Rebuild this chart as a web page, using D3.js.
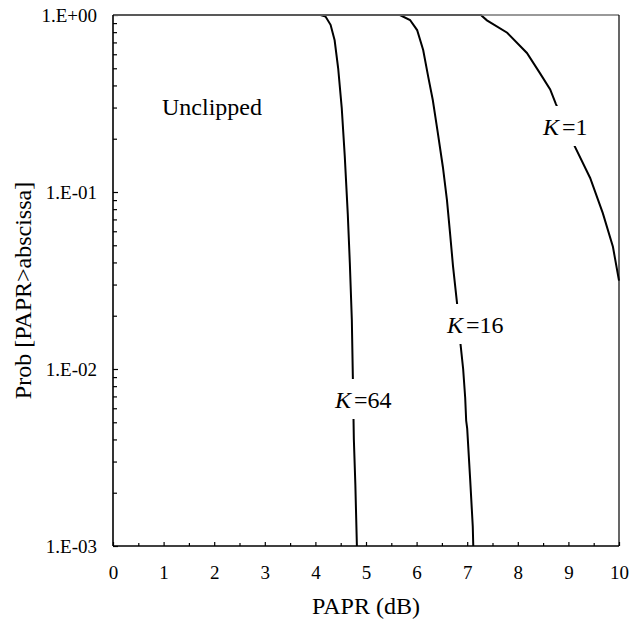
<!DOCTYPE html>
<html>
<head>
<meta charset="utf-8">
<script src="https://cdn.jsdelivr.net/npm/d3@7"></script>
<style>
  body { margin: 0; background: #fff; }
</style>
</head>
<body>
<div id="chart"></div>
<script>
// PAPR values (dB) and Prob[PAPR > abscissa]
const papr64 = [0, 4.1, 4.2, 4.3, 4.38, 4.45, 4.52, 4.58, 4.64, 4.68, 4.72, 4.74, 4.76, 4.79, 4.82];
const prob64 = [1, 1, 0.98, 0.88, 0.72, 0.5, 0.3, 0.16, 0.075, 0.04, 0.019, 0.009, 0.004, 0.0022, 0.001];

const papr16 = [0, 5.67, 5.87, 6.01, 6.13, 6.23, 6.32, 6.42, 6.52, 6.6, 6.66, 6.72, 6.8, 6.86, 6.92, 6.96, 6.98, 7.0, 7.06, 7.11, 7.12];
const prob16 = [1, 1, 0.937, 0.822, 0.634, 0.447, 0.331, 0.215, 0.138, 0.09, 0.059, 0.038, 0.0234, 0.0145, 0.01, 0.0069, 0.0051, 0.0046, 0.00234, 0.00129, 0.001];

const papr1 = [0, 7.07, 7.27, 7.39, 7.79, 8.18, 8.44, 8.64, 8.75, 9.09, 9.43, 9.68, 9.88, 10];
const prob1 = [1, 1, 1, 0.933, 0.794, 0.61, 0.468, 0.38, 0.316, 0.19, 0.12, 0.076, 0.049, 0.0316];

const xTicks = [0, 1, 2, 3, 4, 5, 6, 7, 8, 9, 10];
const yTicks = [1, 0.1, 0.01, 0.001];
const yTickLabels = ["1.E+00", "1.E-01", "1.E-02", "1.E-03"];
const curveNames = ["64", "16", "1"];

const serif = "'Liberation Serif', 'DejaVu Serif', serif";

function drawChart() {
    const width = 630, height = 626;
    const left = 113, right = 619, top = 15, bottom = 546;

    const svg = d3.select("#chart").append("svg").attr("width", width).attr("height", height)
        .attr("font-family", serif);
    const x = d3.scaleLinear().domain([0, 10]).range([left, right]);
    const y = d3.scaleLog().domain([0.001, 1]).range([bottom, top]);

    // minor ticks
    const minorY = [];
    [0.001, 0.01, 0.1].forEach(d => { for (let m = 2; m <= 9; m++) minorY.push(d * m); });
    const minorX = d3.range(0.5, 10, 1);

    svg.append("g").attr("transform", `translate(${left},0)`)
        .call(d3.axisLeft(y).tickValues(minorY).tickFormat("").tickSizeInner(-4).tickSizeOuter(0))
        .call(g => g.select(".domain").remove());
    svg.append("g").attr("transform", `translate(0,${bottom})`)
        .call(d3.axisBottom(x).tickValues(minorX).tickFormat("").tickSizeInner(-3).tickSizeOuter(0))
        .call(g => g.select(".domain").remove());

    // major ticks + labels
    svg.append("g").attr("transform", `translate(${left},0)`)
        .call(d3.axisLeft(y).tickValues(yTicks).tickFormat((d, i) => yTickLabels[i]).tickSizeInner(-5).tickSizeOuter(0).tickPadding(16))
        .attr("font-family", serif).attr("font-size", 19)
        .call(g => g.select(".domain").remove());
    svg.append("g").attr("transform", `translate(0,${bottom})`)
        .call(d3.axisBottom(x).tickValues(xTicks).tickFormat(d3.format("d")).tickSizeInner(-4).tickSizeOuter(0).tickPadding(20))
        .attr("font-family", serif).attr("font-size", 19)
        .call(g => g.select(".domain").remove());
    svg.selectAll(".tick line").attr("stroke", "#000").attr("stroke-width", 1.2);
    svg.selectAll(".tick text").attr("fill", "#000");

    // curves
    const line = d3.line().x(d => x(d[0])).y(d => y(d[1]));
    const series = [d3.zip(papr64, prob64), d3.zip(papr16, prob16), d3.zip(papr1, prob1)];
    svg.append("g").selectAll("path").data(series).join("path")
        .attr("d", line).attr("fill", "none").attr("stroke", "#000").attr("stroke-width", 2);

    // frame
    svg.append("line").attr("x1", left).attr("x2", right).attr("y1", top).attr("y2", top).attr("stroke", "#777").attr("stroke-width", 1.5);
    svg.append("line").attr("x1", right).attr("x2", right).attr("y1", top).attr("y2", bottom).attr("stroke", "#000").attr("stroke-width", 1.2);
    svg.append("line").attr("x1", left).attr("x2", left).attr("y1", top).attr("y2", bottom).attr("stroke", "#000").attr("stroke-width", 1.6);
    svg.append("line").attr("x1", left).attr("x2", right).attr("y1", bottom).attr("y2", bottom).attr("stroke", "#000").attr("stroke-width", 1.6);

    // curve labels (white box breaks the line like the original)
    const labelPos = [[335, 408], [447, 333], [543, 135]];
    curveNames.forEach((name, i) => {
        const g = svg.append("g");
        const t = g.append("text").attr("x", labelPos[i][0]).attr("y", labelPos[i][1]).attr("font-size", 24);
        t.append("tspan").attr("font-style", "italic").text("K");
        t.append("tspan").attr("dx", 3).text("=" + name);
        const b = t.node().getBBox();
        g.insert("rect", "text").attr("x", b.x - 1).attr("y", b.y - 8).attr("width", b.width + 2).attr("height", b.height + 14).attr("fill", "#fff");
    });

    svg.append("text").attr("x", 162).attr("y", 115).attr("font-size", 24).text("Unclipped");

    svg.append("text").attr("x", (left + right) / 2).attr("y", 614).attr("text-anchor", "middle")
        .attr("font-size", 24).text("PAPR (dB)");
    svg.append("text").attr("transform", `translate(31,${(top + bottom) / 2 + 10}) rotate(-90)`).attr("text-anchor", "middle")
        .attr("font-size", 24).text("Prob [PAPR>abscissa]");
}

document.addEventListener("DOMContentLoaded", () => {
    drawChart();
});
</script>
</body>
</html>
